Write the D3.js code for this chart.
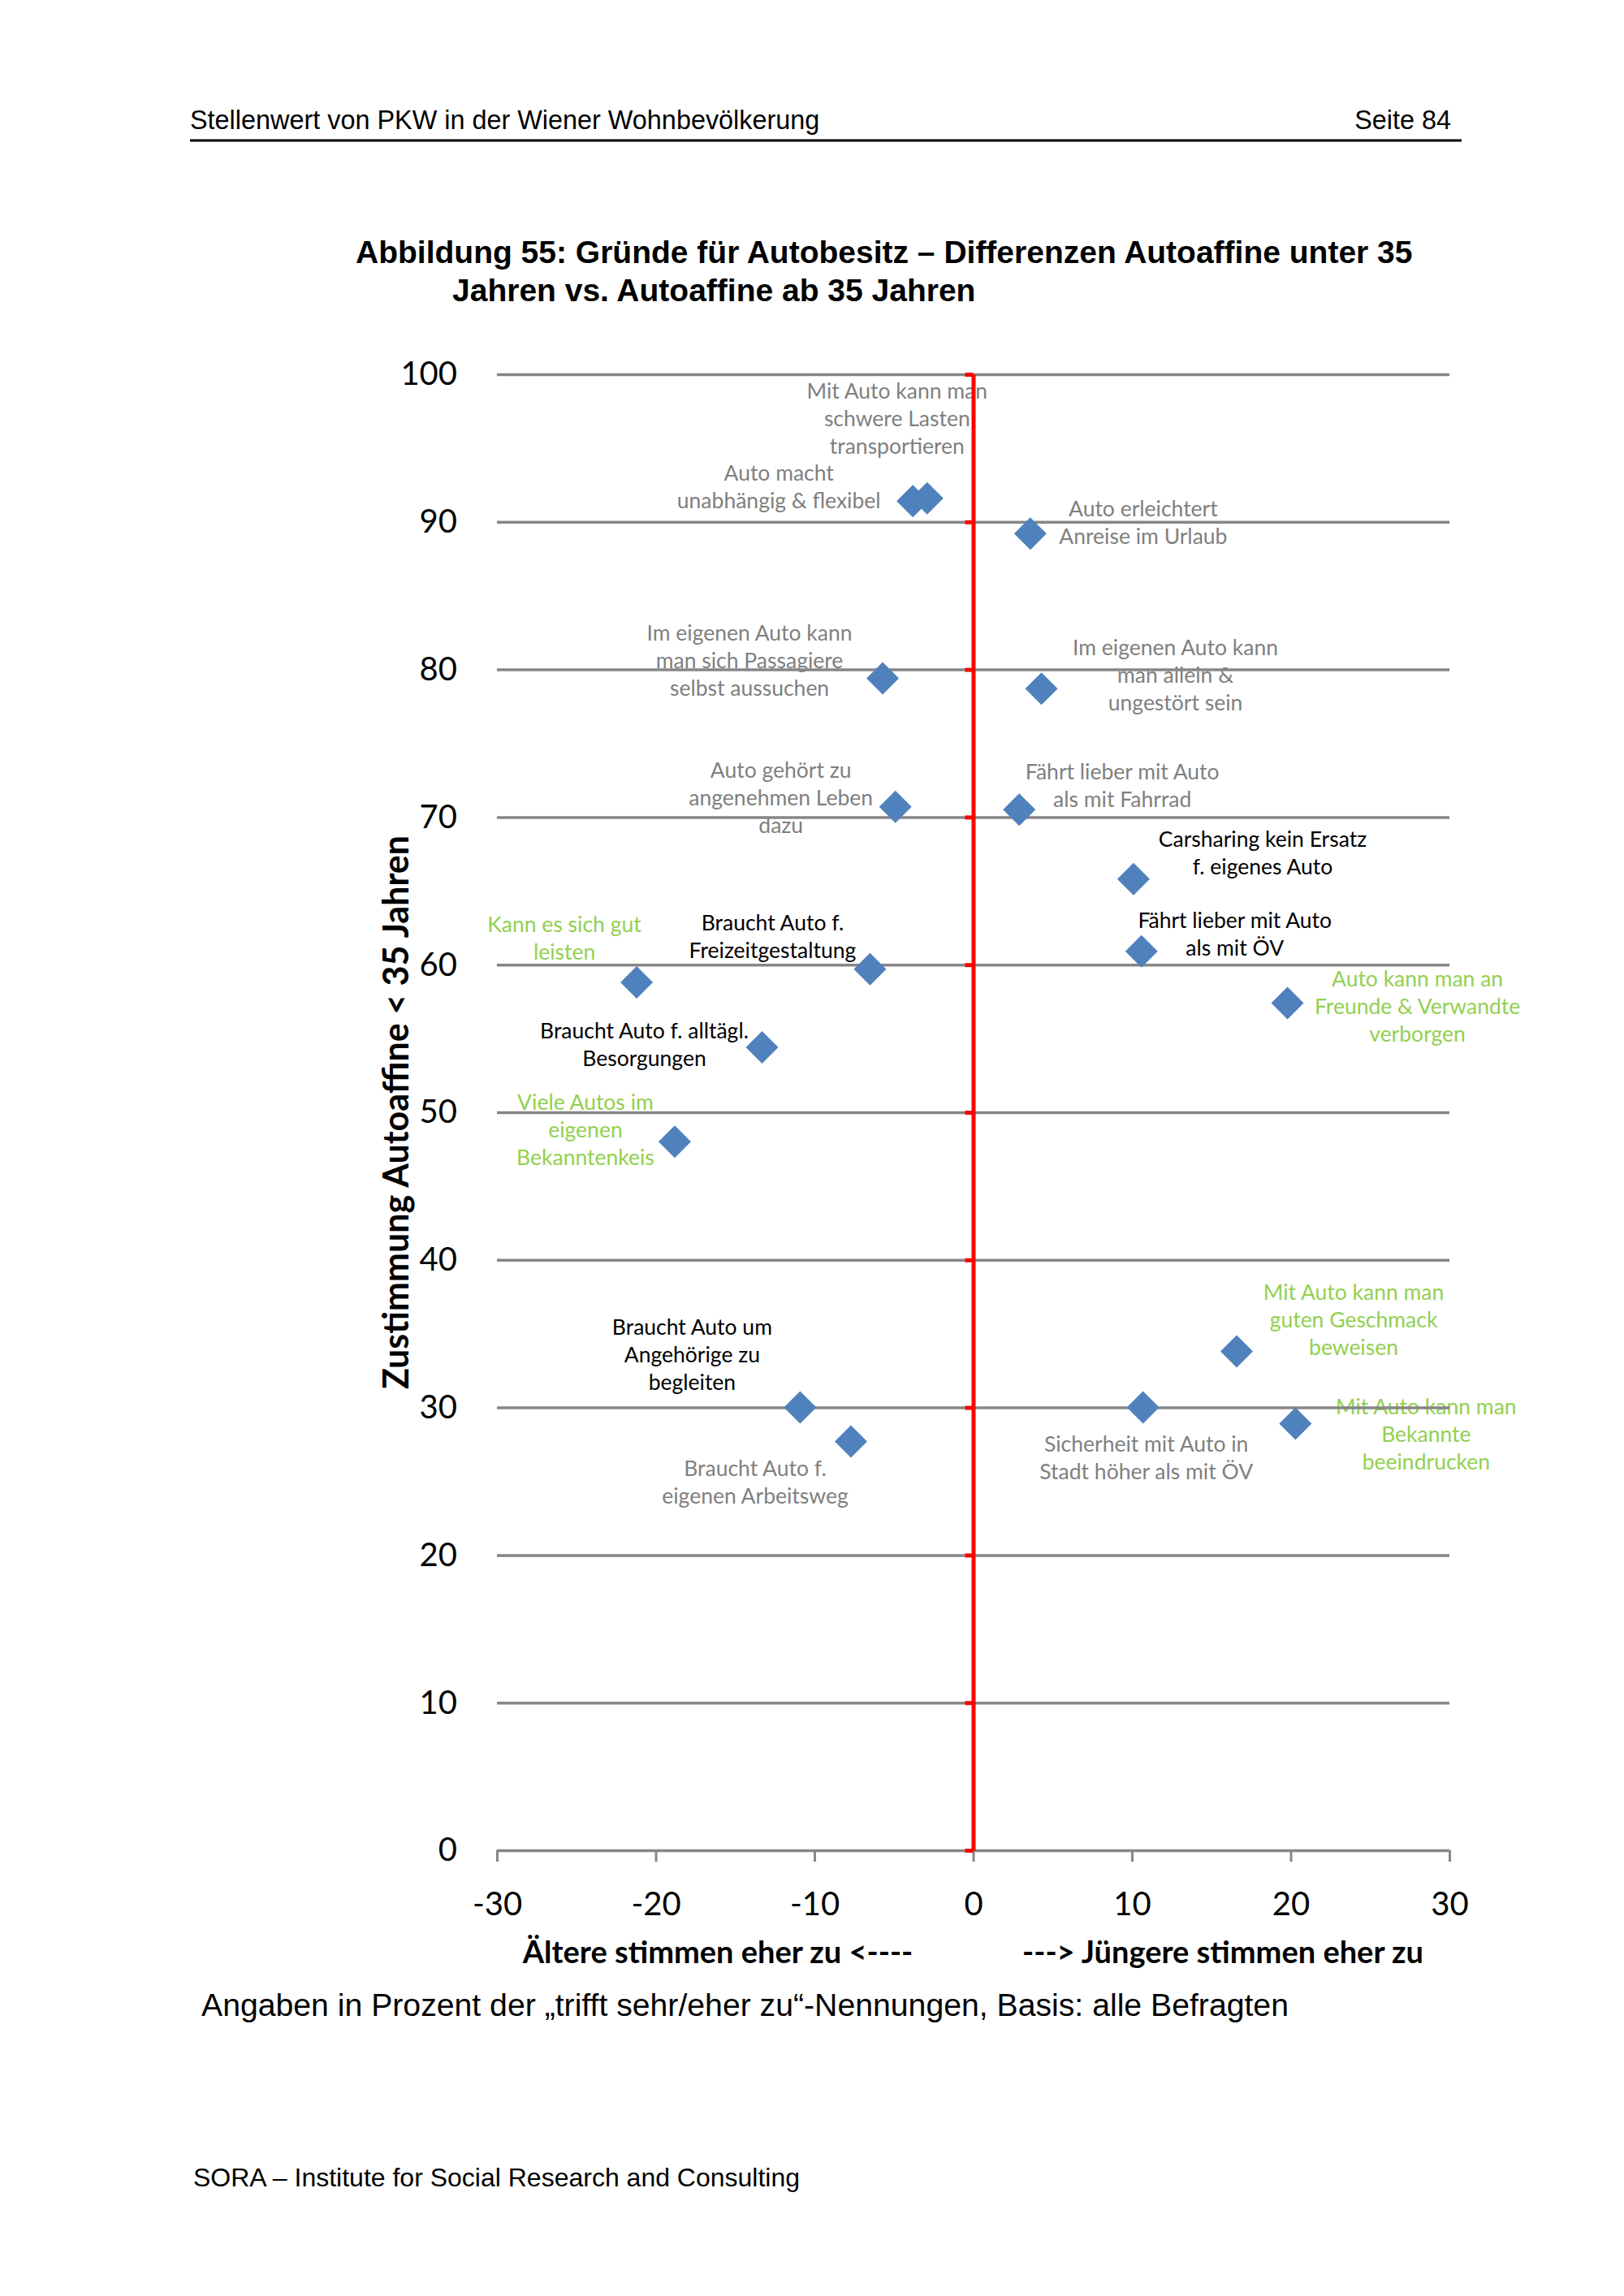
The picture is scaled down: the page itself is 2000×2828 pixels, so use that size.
<!DOCTYPE html>
<html>
<head>
<meta charset="utf-8">
<script src="https://cdn.jsdelivr.net/npm/d3@7"></script>
<style>
  body { margin: 0; background: #fff; }
</style>
</head>
<body>
<div id="chart"></div>
<script>
// Aussagen (Beschriftung der Punkte)
const aussagen = [
    "Mit Auto kann man\nschwere Lasten\ntransportieren",
    "Auto macht\nunabhängig & flexibel",
    "Auto erleichtert\nAnreise im Urlaub",
    "Im eigenen Auto kann\nman sich Passagiere\nselbst aussuchen",
    "Im eigenen Auto kann\nman allein &\nungestört sein",
    "Auto gehört zu\nangenehmen Leben\ndazu",
    "Fährt lieber mit Auto\nals mit Fahrrad",
    "Carsharing kein Ersatz\nf. eigenes Auto",
    "Fährt lieber mit Auto\nals mit ÖV",
    "Auto kann man an\nFreunde & Verwandte\nverborgen",
    "Kann es sich gut\nleisten",
    "Braucht Auto f.\nFreizeitgestaltung",
    "Braucht Auto f. alltägl.\nBesorgungen",
    "Viele Autos im\neigenen\nBekanntenkeis",
    "Braucht Auto um\nAngehörige zu\nbegleiten",
    "Braucht Auto f.\neigenen Arbeitsweg",
    "Sicherheit mit Auto in\nStadt höher als mit ÖV",
    "Mit Auto kann man\nguten Geschmack\nbeweisen",
    "Mit Auto kann man\nBekannte\nbeeindrucken"
];

// Differenz jüngere - ältere (x) und Zustimmung unter 35 (y)
const differenz = [-2.9, -3.8, 3.6, -5.7, 4.3, -4.9, 2.9, 10.1, 10.6, 19.8, -21.2, -6.5, -13.3, -18.8, -10.9, -7.7, 10.7, 16.6, 20.3];
const zustimmung = [91.6, 91.4, 89.2, 79.4, 78.7, 70.7, 70.5, 65.8, 60.9, 57.4, 58.8, 59.7, 54.4, 48.0, 30.0, 27.7, 30.0, 33.8, 28.9];

// Gruppe der Beschriftung (Farbe im Original)
const gruppe = ["grau", "grau", "grau", "grau", "grau", "grau", "grau", "schwarz", "schwarz", "grün",
    "grün", "schwarz", "schwarz", "grün", "schwarz", "grau", "grau", "grün", "grün"];

const xTicks = [-30, -20, -10, 0, 10, 20, 30];
const yTicks = [0, 10, 20, 30, 40, 50, 60, 70, 80, 90, 100];

// Lage der Beschriftungen relativ zum Punkt (px)
const labelOffsets = [
    [-37, -132], [-165, -35], [139, -31], [-164, -56], [165, -51],
    [-141, -45], [127, -47], [159, -49], [115, -38], [160, -30],
    [-89, -71], [-120, -57], [-145, -20], [-110, -49], [-133, -99],
    [-118, 33], [4, 45], [144, -73], [161, -21]
];

const farben = { grau: "#7f7f7f", schwarz: "#000000", "grün": "#92d050" };
const labelFont = "Lato, 'Open Sans', sans-serif";
const pageFont = "'Liberation Sans', Arial, sans-serif";

const W = 2000, H = 2828;
const svg = d3.select("#chart").append("svg")
    .attr("width", W)
    .attr("height", H);

// Kopfzeile
svg.append("text")
    .attr("x", 234).attr("y", 159)
    .attr("font-family", pageFont).attr("font-size", 32.4)
    .text("Stellenwert von PKW in der Wiener Wohnbevölkerung");
svg.append("text")
    .attr("x", 1787).attr("y", 159)
    .attr("text-anchor", "end")
    .attr("font-family", pageFont).attr("font-size", 32.4)
    .text("Seite 84");
svg.append("line")
    .attr("x1", 234).attr("x2", 1800)
    .attr("y1", 173).attr("y2", 173)
    .attr("stroke", "#000").attr("stroke-width", 3);

// Titel
const titel = svg.append("text")
    .attr("font-family", pageFont).attr("font-size", 39).attr("font-weight", "bold");
titel.append("tspan").attr("x", 438).attr("y", 324)
    .text("Abbildung 55: Gründe für Autobesitz – Differenzen Autoaffine unter 35");
titel.append("tspan").attr("x", 557).attr("y", 371)
    .text("Jahren vs. Autoaffine ab 35 Jahren");

// Skalen
const x = d3.scaleLinear().domain([-30, 30]).range([612, 1785]);
const y = d3.scaleLinear().domain([0, 100]).range([2279, 461]);

const punkte = aussagen.map((a, i) => ({
    text: a, dx: differenz[i], zu: zustimmung[i], gruppe: gruppe[i], off: labelOffsets[i]
}));

// Beschriftungen (liegen unter den Gitterlinien)
const labels = svg.append("g").attr("class", "labels")
    .attr("font-family", labelFont).attr("font-size", 26.5).attr("text-anchor", "middle");

labels.selectAll("text")
    .data(punkte)
    .enter()
    .append("text")
    .attr("fill", d => farben[d.gruppe])
    .each(function (d) {
        const t = d3.select(this);
        d.text.split("\n").forEach((zeile, k) => {
            t.append("tspan")
                .attr("x", x(d.dx) + d.off[0])
                .attr("y", y(d.zu) + d.off[1] + k * 34)
                .attr("dy", "0.35em")
                .text(zeile);
        });
    });

// Gitterlinien + y-Beschriftung
const yAxis = svg.append("g")
    .attr("transform", `translate(${x(-30)},0)`)
    .call(d3.axisLeft(y).tickValues(yTicks).tickSize(-(x(30) - x(-30))).tickPadding(49)
        .tickFormat(d => String(d)));
yAxis.select(".domain").remove();
yAxis.selectAll(".tick line").attr("stroke", "#868686").attr("stroke-width", 3.5);
yAxis.selectAll(".tick text")
    .attr("font-family", labelFont).attr("font-size", 40).attr("fill", "#000");

// x-Achse (Teilstriche unterhalb)
const xAxis = svg.append("g")
    .attr("transform", `translate(0,${y(0)})`)
    .call(d3.axisBottom(x).tickValues(xTicks).tickSize(14).tickPadding(38)
        .tickFormat(d => String(d)));
xAxis.select(".domain").remove();
xAxis.selectAll(".tick line").attr("stroke", "#868686").attr("stroke-width", 3);
xAxis.selectAll(".tick text")
    .attr("font-family", labelFont).attr("font-size", 40).attr("fill", "#000");

// rote Achse bei 0
const nullAchse = svg.append("g")
    .attr("transform", `translate(${x(0)},0)`)
    .call(d3.axisLeft(y).tickValues(yTicks).tickSize(10).tickSizeOuter(0).tickFormat(""));
nullAchse.select(".domain").attr("stroke", "#ff0000").attr("stroke-width", 5);
nullAchse.selectAll(".tick line").attr("stroke", "#ff0000").attr("stroke-width", 5);

// Punkte (Rauten)
svg.append("g")
    .selectAll("path")
    .data(punkte)
    .enter()
    .append("path")
    .attr("d", d3.symbol(d3.symbolSquare, 800))
    .attr("transform", d => `translate(${x(d.dx)},${y(d.zu)}) rotate(45)`)
    .attr("fill", "#4f81bd");

// Achsentitel
svg.append("text")
    .attr("transform", `translate(486,${(y(0) + y(100)) / 2}) rotate(-90)`)
    .attr("text-anchor", "middle")
    .attr("dominant-baseline", "central")
    .attr("font-family", labelFont).attr("font-size", 43).attr("font-weight", "bold")
    .text("Zustimmung Autoaffine < 35 Jahren");

svg.append("text")
    .attr("x", 884).attr("y", 2418)
    .attr("text-anchor", "middle")
    .attr("font-family", labelFont).attr("font-size", 38).attr("font-weight", "bold")
    .text("Ältere stimmen eher zu <----");
svg.append("text")
    .attr("x", 1506).attr("y", 2418)
    .attr("text-anchor", "middle")
    .attr("font-family", labelFont).attr("font-size", 38).attr("font-weight", "bold")
    .text("---> Jüngere stimmen eher zu");

// Fußnote und Fußzeile
svg.append("text")
    .attr("x", 248).attr("y", 2483)
    .attr("font-family", pageFont).attr("font-size", 39.2)
    .text("Angaben in Prozent der „trifft sehr/eher zu“-Nennungen, Basis: alle Befragten");
svg.append("text")
    .attr("x", 238).attr("y", 2693)
    .attr("font-family", pageFont).attr("font-size", 32)
    .text("SORA – Institute for Social Research and Consulting");
</script>
</body>
</html>
